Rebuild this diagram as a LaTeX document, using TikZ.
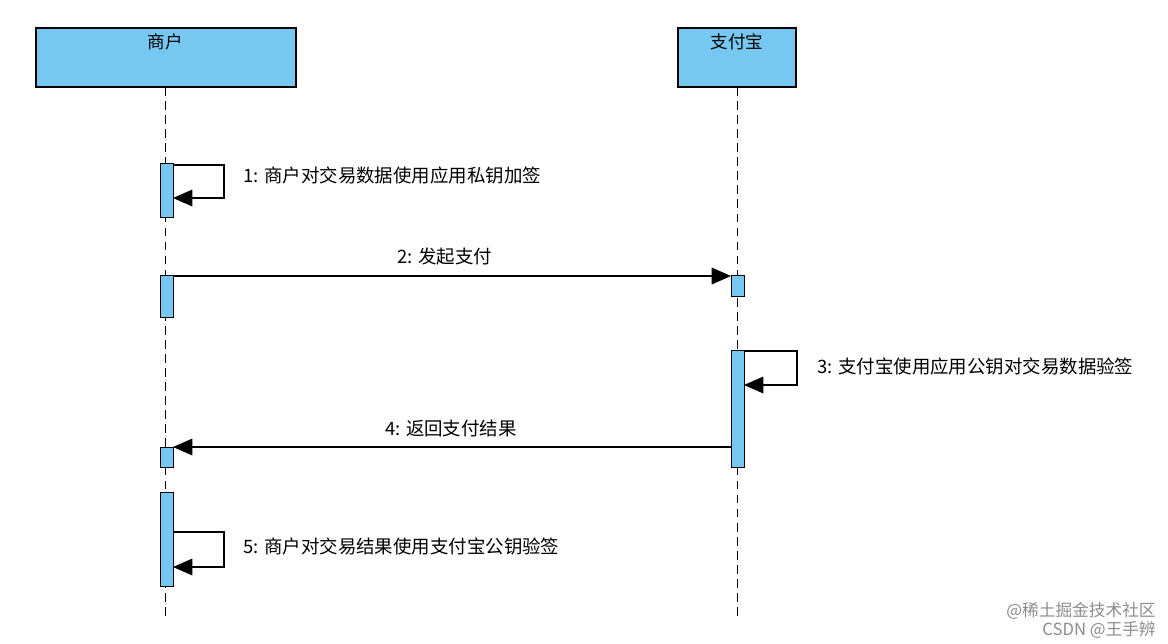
\documentclass[tikz,border=0pt]{standalone}
\usepackage{fontspec}
\setmainfont{Noto Sans CJK SC}
\usetikzlibrary{arrows.meta}
\definecolor{bar}{RGB}{118,200,240}
\begin{document}
\begin{tikzpicture}[x=0.02cm,y=-0.02cm,
  hdr/.style={draw=black,fill=bar,line width=0.6pt},
  act/.style={draw=black,fill=bar,line width=0.5pt},
  life/.style={dashed,line width=0.5pt,dash pattern=on 5pt off 3pt},
  msg/.style={line width=0.6pt,-{Triangle[length=11pt,width=9.5pt]}},
  lbl/.style={font=\fontsize{10.5}{12}\selectfont,anchor=west,inner sep=0pt},
  wm/.style={font=\fontsize{9.5}{11}\selectfont,text=black!45,anchor=east,inner sep=0pt}]
\useasboundingbox (0,0) rectangle (1168,643);
% headers
\draw[hdr] (36,28) rectangle (296,87);
\node[font=\fontsize{10}{12}\selectfont] (h1) at (165,42) {商户};
\draw[hdr] (678,28) rectangle (796,87);
\node[font=\fontsize{10}{12}\selectfont] (h2) at (737,42) {支付宝};
% lifelines
\draw[life] (165,87) -- (165,620);
\draw[life] (737,87) -- (737,620);
% activations
\draw[act] (160,163) rectangle (173,217);
\draw[act] (160,275) rectangle (173,317);
\draw[act] (731,275) rectangle (744,296);
\draw[act] (731,350) rectangle (744,467);
\draw[act] (160,447) rectangle (173,467);
\draw[act] (160,492) rectangle (173,586);
% coordinates
\coordinate (a1) at (173,165); \coordinate (b1) at (173,198);
\coordinate (a2) at (173,276); \coordinate (b2) at (731,276);
\coordinate (a3) at (744,351); \coordinate (b3) at (744,385);
\coordinate (a4) at (731,447); \coordinate (b4) at (173,447);
\coordinate (a5) at (173,532); \coordinate (b5) at (173,567);
% messages
\draw[msg] (a1) -- (224,165) -- (224,198) -- (b1);
\node[lbl] (l1) at (243,175) {1: 商户对交易数据使用应用私钥加签};
\draw[msg] (a2) -- (b2);
\node[font=\fontsize{10.5}{12}\selectfont,inner sep=0pt] (l2) at (445,257) {2: 发起支付};
\draw[msg] (a3) -- (797,351) -- (797,385) -- (b3);
\node[lbl] (l3) at (817,366) {3: 支付宝使用应用公钥对交易数据验签};
\draw[msg] (a4) -- (b4);
\node[font=\fontsize{10.5}{12}\selectfont,inner sep=0pt] (l4) at (451,428) {4: 返回支付结果};
\draw[msg] (a5) -- (224,532) -- (224,567) -- (b5);
\node[lbl] (l5) at (243,546) {5: 商户对交易结果使用支付宝公钥验签};
% watermark
\node[wm] (w1) at (1156,611) {@稀土掘金技术社区};
\node[wm] (w2) at (1156,630) {CSDN @王手辨};
\end{tikzpicture}
\end{document}
